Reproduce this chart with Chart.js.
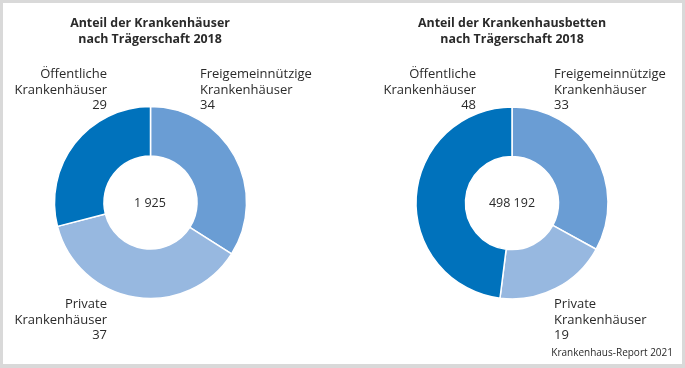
<!DOCTYPE html>
<html><head><meta charset="utf-8">
<script src="https://cdn.jsdelivr.net/npm/chart.js@4"></script>
<style>
html,body{margin:0;padding:0;background:#d9d9d9;}
#wrap{position:relative;width:685px;height:368px;overflow:hidden;}
#panel{position:absolute;left:3px;top:3px;width:679px;height:361px;background:#fff;}
canvas{position:absolute;left:0;top:0;}
</style></head>
<body><div id="wrap"><div id="panel"></div>
<canvas id="c1" width="685" height="368"></canvas>
<canvas id="c2" width="685" height="368"></canvas>
</div>
<script>
const categories = [['Freigemeinnützige','Krankenhäuser'], ['Private','Krankenhäuser'], ['Öffentliche','Krankenhäuser']];
const hospitalShares = [34, 37, 29];
const bedShares = [33, 19, 48];
const hospitalTitle = ['Anteil der Krankenhäuser', 'nach Trägerschaft 2018'];
const bedTitle = ['Anteil der Krankenhausbetten', 'nach Trägerschaft 2018'];
const hospitalTotal = '1 925';
const bedTotal = '498 192';
const sourceText = 'Krankenhaus-Report 2021';
const colors = ['#6a9dd4', '#97b8e0', '#0072bc'];

const FONT = '"Open Sans", sans-serif';
const TXT = '#2a2a2a';

function textPlugin(cfg) {
  return {
    id: 'txt',
    afterDraw(chart) {
      const ctx = chart.ctx;
      ctx.save();
      ctx.fillStyle = TXT;
      ctx.textBaseline = 'alphabetic';
      ctx.font = 'bold 12.4px ' + FONT;
      ctx.textAlign = 'center';
      cfg.title.forEach((t, i) => ctx.fillText(t, cfg.cx, 27 + i * 15.5));
      ctx.font = '12.5px ' + FONT;
      ctx.fillText(cfg.total, cfg.cx, 207);
      ctx.font = '13px ' + FONT;
      const ds = chart.data.datasets[0].data;
      cfg.labels.forEach((lp, i) => {
        ctx.textAlign = lp.align;
        const lines = categories[i].concat([String(ds[i])]);
        lines.forEach((l, j) => ctx.fillText(l, lp.x, lp.y + j * 15.5));
      });
      if (cfg.source) {
        ctx.font = '10px ' + FONT;
        ctx.textAlign = 'right';
        ctx.fillText(sourceText, 673, 356);
      }
      ctx.restore();
    }
  };
}

function makeChart(id, data, pad, cfg) {
  return new Chart(document.getElementById(id), {
    type: 'doughnut',
    data: { labels: categories.map(c => c[0]), datasets: [{ data: data, backgroundColor: colors, borderColor: '#ffffff', borderWidth: 1.5 }] },
    options: {
      responsive: false, animation: false, events: [],
      radius: 96, cutout: '48.5%',
      layout: { padding: pad },
      plugins: { legend: { display: false }, tooltip: { enabled: false } }
    },
    plugins: [textPlugin(cfg)]
  });
}

makeChart('c1', hospitalShares, { left: 0, right: 384, top: 37, bottom: 0 }, {
  cx: 150, title: hospitalTitle, total: hospitalTotal,
  labels: [ { align: 'left', x: 200, y: 78 }, { align: 'right', x: 107, y: 308 }, { align: 'right', x: 107, y: 78 } ]
});
makeChart('c2', bedShares, { left: 339, right: 0, top: 38, bottom: 0 }, {
  cx: 512, title: bedTitle, total: bedTotal, source: true,
  labels: [ { align: 'left', x: 554, y: 78 }, { align: 'left', x: 554, y: 308 }, { align: 'right', x: 476, y: 78 } ]
});
</script></body></html>
